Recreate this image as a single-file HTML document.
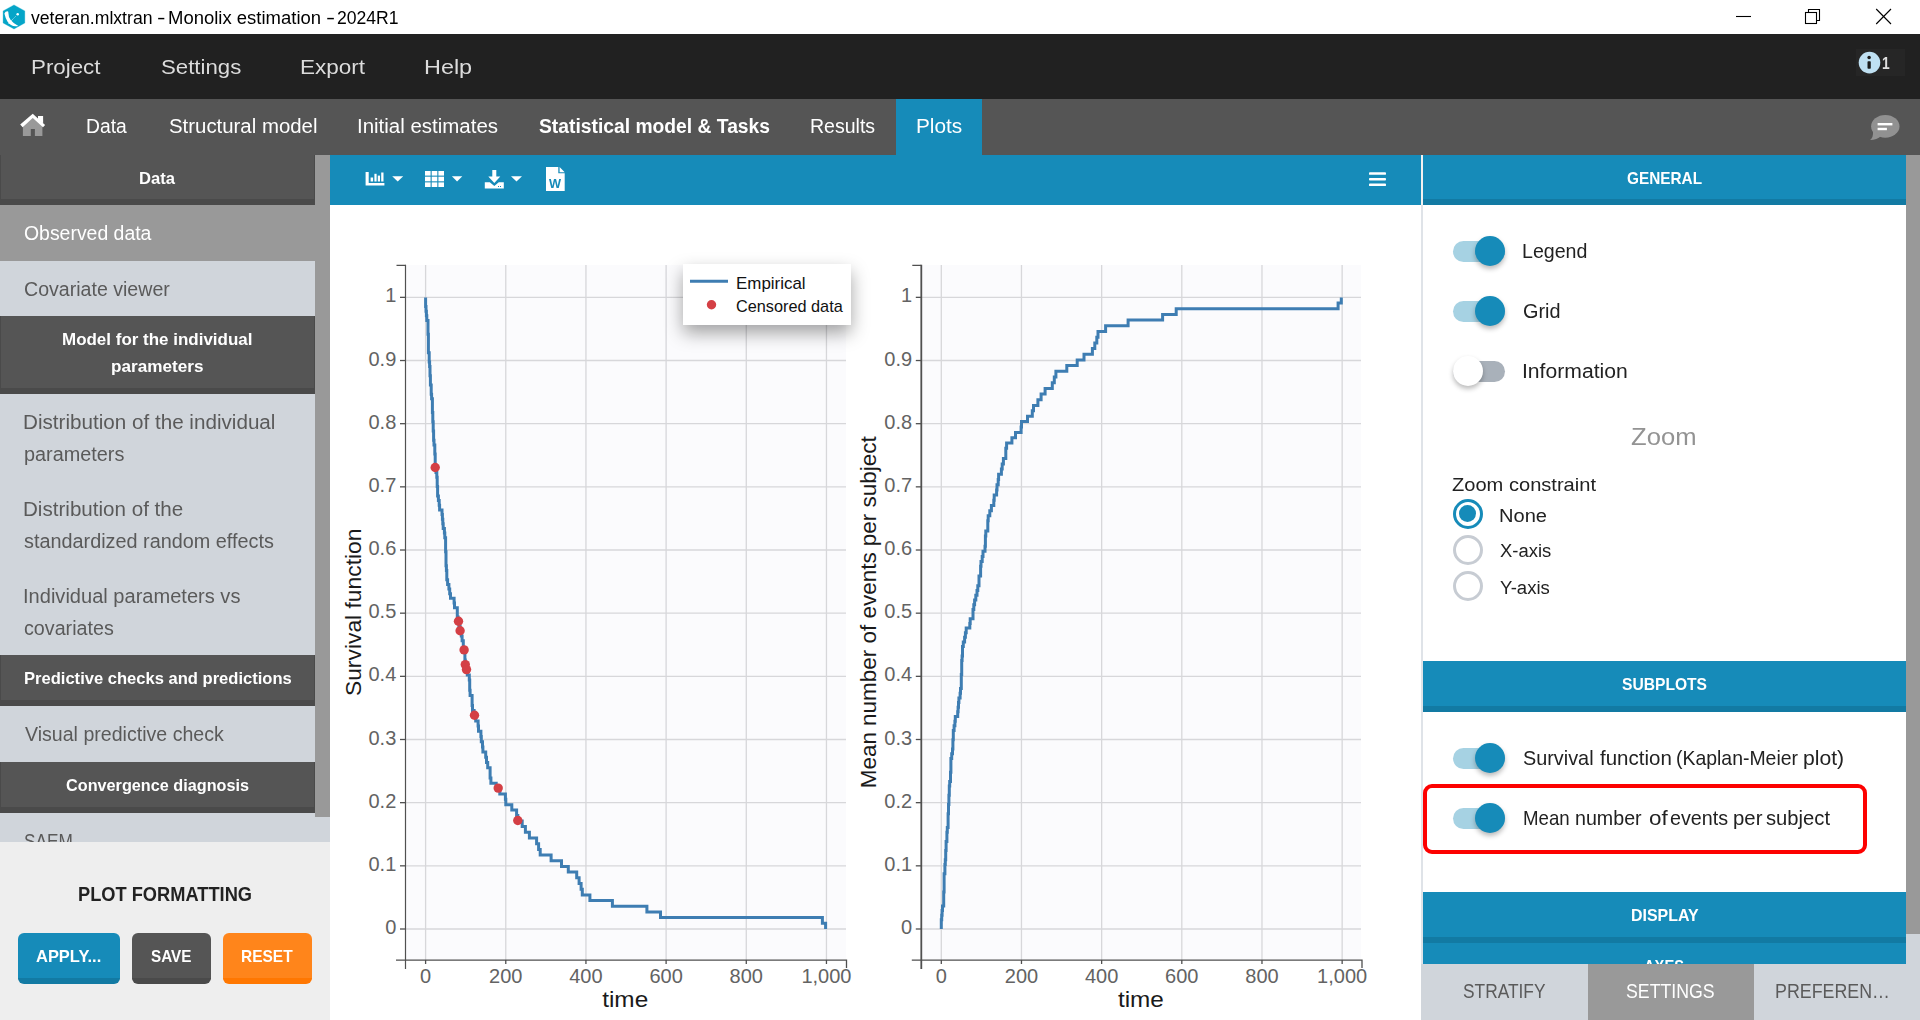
<!DOCTYPE html>
<html><head><meta charset="utf-8"><title>veteran.mlxtran - Monolix estimation - 2024R1</title>
<style>
html,body{margin:0;padding:0;}
body{width:1920px;height:1020px;overflow:hidden;background:#fff;font-family:"Liberation Sans",sans-serif;position:relative;}
.abs,.t,.trk,.thm,.rad{position:absolute;}
.t{white-space:nowrap;line-height:1;transform-origin:0 50%;}
.trk{width:51.8px;height:21px;border-radius:10.5px;}
.thm{width:30px;height:30px;border-radius:50%;box-shadow:0 3px 5px rgba(0,0,0,.27);}
.rad{width:30px;height:30px;border-radius:50%;box-sizing:border-box;background:#fff;}
.hdr{position:absolute;left:0;width:315px;background:#555555;border-bottom:6px solid #4a4a4a;border-left:1px solid #4a4a4a;border-right:1px solid #4a4a4a;box-sizing:border-box;}
.bh{position:absolute;left:0;width:483px;background:#168bb9;border-bottom:6px solid #127aa3;box-sizing:border-box;}
.btn{position:absolute;top:933px;height:51px;border-radius:6px;box-sizing:border-box;}
.chart{position:absolute;left:330px;top:205px;}
</style></head><body>

<div class='abs' id='titlebar' style='left:0;top:0;width:1920px;height:34px;background:#fff'>
<svg class='abs' style='left:0;top:0' width='30' height='34' viewBox='0 0 30 34'><polygon points='14,4.9 24.8,10.9 24.8,23 14,29 3.1,23 3.1,10.9' fill='#05a5c8' stroke='#05a5c8' stroke-width='0.3' stroke-linejoin='round'/>
<path d='M4.4,13.6 Q5.2,11.2 7.6,11.2 Q8.6,11.3 8.4,13 Q8.2,21 18.4,25.9 Q11.5,27.6 7.6,21.8 Q5.3,18 4.4,13.6Z' fill='#fff'/><circle cx='17.7' cy='14.2' r='1.25' fill='#fff'/><line x1='15.6' y1='16.4' x2='8' y2='24' stroke='#fff' stroke-width='0.6' stroke-dasharray='1.2,0.6'/></svg>
<svg class='abs' style='left:1720px;top:0' width='200' height='34' viewBox='1720 0 200 34' fill='none' stroke='#000' stroke-width='1.1'>
<line x1='1736' x2='1751' y1='16.5' y2='16.5'/>
<rect x='1805.5' y='12.5' width='11' height='11'/><path d='M1808.5,12.5V9.5H1819.5V20.5H1816.5'/>
<path d='M1876.2,9L1891,24M1891,9L1876.2,24'/></svg>
</div>
<div class='abs' id='menubar' style='left:0;top:34px;width:1920px;height:65px;background:#212121'></div>
<div class='abs' style='left:1856px;top:49px;width:49px;height:27px;background:#262626'></div>
<svg class='abs' style='left:1856px;top:49px' width='30' height='27' viewBox='1856 49 30 27'><circle cx='1869.5' cy='62.6' r='10.8' fill='#bfe0f2'/>
<circle cx='1869.1' cy='57.5' r='1.75' fill='#1c1c1c'/><rect x='1867.5' y='61.2' width='3.3' height='7.6' rx='0.8' fill='#1c1c1c'/></svg>
<div class='abs' id='tabbar' style='left:0;top:99px;width:1920px;height:56px;background:#555555'></div>
<div class='abs' style='left:896px;top:99px;width:86px;height:56px;background:#168bb9'></div>
<svg class='abs' style='left:18px;top:110px' width='30' height='30' viewBox='18 110 30 30'>
<path d='M22.9,125.5L32.75,117.8L42.4,125.5V136H34.9V129.1H30.8V136H22.9Z' fill='#999'/>
<path d='M38,116H43.1V123.5L38,119.5Z' fill='#fff'/>
<path d='M20.2,124.6L32.75,113.8L45.1,125L43,127.2L32.75,118L22.6,127.2Z' fill='#fff'/></svg>
<svg class='abs' style='left:1866px;top:112px' width='38' height='32' viewBox='1866 112 38 32'>
<ellipse cx='1885.3' cy='126.3' rx='14.2' ry='11.4' fill='#919191'/><path d='M1873,131 Q1873.5,137.5 1870,140 Q1877,140 1881,136Z' fill='#919191'/>
<rect x='1877.6' y='123' width='14.8' height='2.4' fill='#fff'/><rect x='1877.6' y='127.8' width='9.3' height='2.4' fill='#fff'/></svg>
<div class='abs' id='sidebar' style='left:0;top:155px;width:330px;height:687px;overflow:hidden;background:#d0d5db'>
<div class='abs' style='left:315px;top:0;width:15px;height:661.5px;background:#999999'></div>
<div class='hdr' style='top:0px;height:50px'></div>
<div class='abs' style='left:0;top:50px;width:315px;height:56px;background:#999999'></div>
<div class='hdr' style='top:161px;height:78px'></div>
<div class='hdr' style='top:500px;height:51px'></div>
<div class='hdr' style='top:607px;height:51px'></div>
<span class='t' style='left:138.79px;top:16.00px;font-size:16.6px;font-weight:700;color:#fff;transform:scaleX(1.0011)'>Data</span>
<span class='t' style='left:23.59px;top:69.00px;font-size:19.4px;font-weight:400;color:#fff;transform:scaleX(1.0016)'>Observed data</span>
<span class='t' style='left:23.59px;top:125.00px;font-size:19.4px;font-weight:400;color:#5a5a5a;transform:scaleX(1.0096)'>Covariate viewer</span>
<span class='t' style='left:62.29px;top:177.00px;font-size:16.6px;font-weight:700;color:#fff;transform:scaleX(1.0225)'>Model for the individual</span>
<span class='t' style='left:111.28px;top:204.00px;font-size:16.6px;font-weight:700;color:#fff;transform:scaleX(1.0329)'>parameters</span>
<span class='t' style='left:22.77px;top:258.00px;font-size:19.4px;font-weight:400;color:#5a5a5a;transform:scaleX(1.0645)'>Distribution of the individual</span>
<span class='t' style='left:23.79px;top:290.00px;font-size:19.4px;font-weight:400;color:#5a5a5a;transform:scaleX(1.0238)'>parameters</span>
<span class='t' style='left:22.77px;top:345.00px;font-size:19.4px;font-weight:400;color:#5a5a5a;transform:scaleX(1.0619)'>Distribution of the</span>
<span class='t' style='left:23.59px;top:377.00px;font-size:19.4px;font-weight:400;color:#5a5a5a;transform:scaleX(1.0224)'>standardized random effects</span>
<span class='t' style='left:22.77px;top:432.00px;font-size:19.4px;font-weight:400;color:#5a5a5a;transform:scaleX(1.0346)'>Individual parameters vs</span>
<span class='t' style='left:23.58px;top:464.00px;font-size:19.4px;font-weight:400;color:#5a5a5a;transform:scaleX(1.0162)'>covariates</span>
<span class='t' style='left:23.59px;top:516.00px;font-size:16.6px;font-weight:700;color:#fff;transform:scaleX(0.9979)'>Predictive checks and predictions</span>
<span class='t' style='left:24.60px;top:570.00px;font-size:19.4px;font-weight:400;color:#5a5a5a;transform:scaleX(1.0097)'>Visual predictive check</span>
<span class='t' style='left:65.99px;top:623.00px;font-size:16.6px;font-weight:700;color:#fff;transform:scaleX(0.9777)'>Convergence diagnosis</span>
<span class='t' style='left:23.56px;top:677.00px;font-size:19.4px;font-weight:400;color:#5a5a5a;transform:scaleX(0.8895)'>SAEM</span>
</div>
<div class='abs' id='plotfmt' style='left:0;top:842px;width:330px;height:178px;background:#eeeeee'></div>
<div class='btn' style='left:18px;width:102px;background:#168bb9;border-bottom:6px solid #127aa3'></div>
<div class='btn' style='left:132px;width:79px;background:#555;border-bottom:6px solid #4a4a4a'></div>
<div class='btn' style='left:223px;width:89px;background:#ff851b;border-bottom:6px solid #ff7701'></div>
<div class='abs' id='toolbar' style='left:330px;top:155px;width:1091px;height:50px;background:#168bb9'></div>
<svg class='abs' style='left:360px;top:160px' width='220' height='40' viewBox='360 160 220 40' fill='#fff'>
<path d='M365.6,171.9H368.7V183.1H384.4V185.6H365.6Z'/>
<rect x='370.6' y='177.5' width='2.5' height='4' /><rect x='374.4' y='173.8' width='2.2' height='7.7'/><rect x='377.8' y='175.6' width='2.2' height='5.9'/><rect x='381.2' y='172.5' width='2.3' height='9'/>
<path d='M392.2,176.2H403.2L397.7,181.4Z'/>
<g><rect x='425' y='171' width='5.6' height='4.6'/><rect x='431.7' y='171' width='5.6' height='4.6'/><rect x='438.4' y='171' width='5.6' height='4.6'/>
<rect x='425' y='176.7' width='5.6' height='4.6'/><rect x='431.7' y='176.7' width='5.6' height='4.6'/><rect x='438.4' y='176.7' width='5.6' height='4.6'/>
<rect x='425' y='182.4' width='5.6' height='4.6'/><rect x='431.7' y='182.4' width='5.6' height='4.6'/><rect x='438.4' y='182.4' width='5.6' height='4.6'/></g>
<path d='M451.9,176.2H462.3L457.1,181.4Z'/>
<path d='M492.3,170H496.3V176.5H500.3L494.3,183L488.3,176.5H492.3Z'/>
<path d='M484.8,182.2H489.8L494.3,186L498.8,182.2H503.8V188.5H484.8Z'/>
<path d='M511,176.2H522L516.5,181.4Z'/>
<path d='M546,167H558.3V173.3H564.7V191H546Z M559.6,167L564.7,172.2H559.6Z'/>
</svg>
<span class='t' style='left:549.2px;top:177.72px;font-size:12.5px;font-weight:700;color:#168bb9;transform:scaleX(1.02)'>W</span>
<div class='abs' style='left:498px;top:185.6px;width:1px;height:1px;background:#168bb9'></div><div class='abs' style='left:500px;top:185.6px;width:1px;height:1px;background:#168bb9'></div>
<svg class='abs' style='left:1365px;top:168px' width='26' height='22' viewBox='1365 168 26 22' fill='#fff'>
<rect x='1369' y='172.3' width='17' height='2.55' rx='0.9'/><rect x='1369' y='177.95' width='17' height='2.55' rx='0.9'/><rect x='1369' y='183.55' width='17' height='2.55' rx='0.9'/></svg>
<svg class="chart" width="1091" height="815" viewBox="330 205 1091 815" font-family="Liberation Sans, sans-serif">
<defs><filter id="sh" x="-30%" y="-60%" width="160%" height="260%"><feDropShadow dx="0" dy="8" stdDeviation="9" flood-color="#000" flood-opacity="0.36"/></filter></defs>
<rect x="406.0" y="265" width="440.0" height="695" fill="#fbfbfd"/>
<line x1="405.5" x2="846" y1="297.35" y2="297.35" stroke="#d7d7da" stroke-width="1.3"/>
<line x1="405.5" x2="846" y1="360.52" y2="360.52" stroke="#d7d7da" stroke-width="1.3"/>
<line x1="405.5" x2="846" y1="423.68" y2="423.68" stroke="#d7d7da" stroke-width="1.3"/>
<line x1="405.5" x2="846" y1="486.85" y2="486.85" stroke="#d7d7da" stroke-width="1.3"/>
<line x1="405.5" x2="846" y1="550.01" y2="550.01" stroke="#d7d7da" stroke-width="1.3"/>
<line x1="405.5" x2="846" y1="613.17" y2="613.17" stroke="#d7d7da" stroke-width="1.3"/>
<line x1="405.5" x2="846" y1="676.34" y2="676.34" stroke="#d7d7da" stroke-width="1.3"/>
<line x1="405.5" x2="846" y1="739.50" y2="739.50" stroke="#d7d7da" stroke-width="1.3"/>
<line x1="405.5" x2="846" y1="802.67" y2="802.67" stroke="#d7d7da" stroke-width="1.3"/>
<line x1="405.5" x2="846" y1="865.84" y2="865.84" stroke="#d7d7da" stroke-width="1.3"/>
<line x1="405.5" x2="846" y1="929.00" y2="929.00" stroke="#d7d7da" stroke-width="1.3"/>
<line x1="425.60" x2="425.60" y1="265" y2="960" stroke="#d7d7da" stroke-width="1.3"/>
<line x1="505.77" x2="505.77" y1="265" y2="960" stroke="#d7d7da" stroke-width="1.3"/>
<line x1="585.94" x2="585.94" y1="265" y2="960" stroke="#d7d7da" stroke-width="1.3"/>
<line x1="666.11" x2="666.11" y1="265" y2="960" stroke="#d7d7da" stroke-width="1.3"/>
<line x1="746.28" x2="746.28" y1="265" y2="960" stroke="#d7d7da" stroke-width="1.3"/>
<line x1="826.45" x2="826.45" y1="265" y2="960" stroke="#d7d7da" stroke-width="1.3"/>
<rect x="921.8" y="265" width="439.20000000000005" height="695" fill="#fbfbfd"/>
<line x1="921.3" x2="1361" y1="297.35" y2="297.35" stroke="#d7d7da" stroke-width="1.3"/>
<line x1="921.3" x2="1361" y1="360.52" y2="360.52" stroke="#d7d7da" stroke-width="1.3"/>
<line x1="921.3" x2="1361" y1="423.68" y2="423.68" stroke="#d7d7da" stroke-width="1.3"/>
<line x1="921.3" x2="1361" y1="486.85" y2="486.85" stroke="#d7d7da" stroke-width="1.3"/>
<line x1="921.3" x2="1361" y1="550.01" y2="550.01" stroke="#d7d7da" stroke-width="1.3"/>
<line x1="921.3" x2="1361" y1="613.17" y2="613.17" stroke="#d7d7da" stroke-width="1.3"/>
<line x1="921.3" x2="1361" y1="676.34" y2="676.34" stroke="#d7d7da" stroke-width="1.3"/>
<line x1="921.3" x2="1361" y1="739.50" y2="739.50" stroke="#d7d7da" stroke-width="1.3"/>
<line x1="921.3" x2="1361" y1="802.67" y2="802.67" stroke="#d7d7da" stroke-width="1.3"/>
<line x1="921.3" x2="1361" y1="865.84" y2="865.84" stroke="#d7d7da" stroke-width="1.3"/>
<line x1="921.3" x2="1361" y1="929.00" y2="929.00" stroke="#d7d7da" stroke-width="1.3"/>
<line x1="941.30" x2="941.30" y1="265" y2="960" stroke="#d7d7da" stroke-width="1.3"/>
<line x1="1021.47" x2="1021.47" y1="265" y2="960" stroke="#d7d7da" stroke-width="1.3"/>
<line x1="1101.64" x2="1101.64" y1="265" y2="960" stroke="#d7d7da" stroke-width="1.3"/>
<line x1="1181.81" x2="1181.81" y1="265" y2="960" stroke="#d7d7da" stroke-width="1.3"/>
<line x1="1261.98" x2="1261.98" y1="265" y2="960" stroke="#d7d7da" stroke-width="1.3"/>
<line x1="1342.15" x2="1342.15" y1="265" y2="960" stroke="#d7d7da" stroke-width="1.3"/>
<path d="M425.6,297.4V306.6H426.0V311.2H426.4V315.8H426.8V320.4H428.0V334.2H428.4V352.7H429.2V361.9H429.6V366.5H430.0V375.7H430.4V385.0H431.2V394.2H431.6V398.8H432.4V412.6H432.8V421.8H433.2V431.1H433.6V440.3H434.0V444.9H434.8V454.1H435.2V467.9H436.0V472.6H436.8V477.3H437.2V486.6H437.6V495.9H438.4V500.5H439.2V505.2H439.6V509.9H442.0V514.5H442.4V519.2H442.8V523.8H443.2V528.5H444.4V533.1H444.8V537.8H445.6V551.8H446.0V565.7H446.4V570.4H446.8V579.7H447.6V584.4H448.9V589.0H449.7V593.7H450.5V598.3H454.1V603.0H454.5V607.7H457.3V617.0H458.1V621.6H458.9V626.4H460.1V631.1H461.3V635.9H462.1V640.7H463.3V650.3H464.9V660.1H465.3V665.0H466.5V670.0H467.3V675.0H469.3V680.1H469.7V690.3H470.1V695.4H472.1V705.5H472.5V710.6H474.1V715.7H475.7V720.9H478.1V726.1H478.5V731.3H480.9V736.5H481.3V741.7H482.5V746.9H482.9V752.1H485.7V757.3H486.5V762.5H487.7V767.7H490.1V778.1H490.9V783.3H496.2V788.5H499.8V793.9H505.4V799.3H505.8V804.7H511.8V810.1H516.6V815.5H517.8V820.9H522.2V826.6H525.4V832.3H529.4V838.0H536.6V843.7H538.6V849.4H540.2V855.1H551.1V860.7H561.5V866.4H568.3V872.1H576.7V877.8H579.1V883.5H581.1V889.2H582.3V894.9H589.9V900.6H612.4V906.2H646.9V911.9H660.5V917.6H822.4V923.3H825.6V929.0" fill="none" stroke="#3e7db2" stroke-width="3" stroke-linejoin="miter"/>
<path d="M941.3,929.0V919.8H941.7V915.2H942.1V910.6H942.5V905.9H943.7V892.1H944.1V873.7H944.9V864.5H945.3V859.8H945.7V850.6H946.1V841.4H946.9V832.2H947.3V827.6H948.1V813.7H948.5V804.5H948.9V795.3H949.3V786.1H949.7V781.5H950.5V772.2H950.9V758.4H951.7V753.8H952.5V749.1H952.9V739.8H953.3V730.5H954.1V725.8H954.9V721.2H955.3V716.5H957.7V711.8H958.1V707.2H958.5V702.5H958.9V697.9H960.1V693.2H960.5V688.6H961.3V674.6H961.7V660.6H962.1V656.0H962.5V646.6H963.3V642.0H964.6V637.3H965.4V632.7H966.2V628.0H969.8V623.4H970.2V618.7H973.0V609.4H973.8V604.7H974.6V600.0H975.8V595.3H977.0V590.5H977.8V585.7H979.0V576.0H980.6V566.3H981.0V561.4H982.2V556.4H983.0V551.3H985.0V546.2H985.4V536.1H985.8V531.0H987.8V520.8H988.2V515.8H989.8V510.7H991.4V505.5H993.8V500.3H994.2V495.1H996.6V489.9H997.0V484.7H998.2V479.5H998.6V474.3H1001.4V469.1H1002.2V463.9H1003.4V458.6H1005.8V448.2H1006.6V443.0H1011.9V437.8H1015.5V432.4H1021.1V427.0H1021.5V421.6H1027.5V416.2H1032.3V410.8H1033.5V405.4H1037.9V399.7H1041.1V394.0H1045.1V388.4H1052.3V382.7H1054.3V377.0H1055.9V371.3H1066.8V365.6H1077.2V359.9H1084.0V354.2H1092.4V348.5H1094.8V342.9H1096.8V337.2H1098.0V331.5H1105.6V325.8H1128.1V320.1H1162.6V314.4H1176.2V308.7H1338.1V303.0H1341.3V297.4" fill="none" stroke="#3e7db2" stroke-width="3" stroke-linejoin="miter"/>
<circle cx="435.2" cy="467.5" r="4.7" fill="#d43f45"/>
<circle cx="458.5" cy="621.2" r="4.7" fill="#d43f45"/>
<circle cx="460.1" cy="630.7" r="4.7" fill="#d43f45"/>
<circle cx="464.1" cy="649.9" r="4.7" fill="#d43f45"/>
<circle cx="465.3" cy="664.6" r="4.7" fill="#d43f45"/>
<circle cx="466.5" cy="669.6" r="4.7" fill="#d43f45"/>
<circle cx="474.5" cy="715.3" r="4.7" fill="#d43f45"/>
<circle cx="498.2" cy="788.1" r="4.7" fill="#d43f45"/>
<circle cx="517.8" cy="820.5" r="4.7" fill="#d43f45"/>
<path d="M396.5,265.3H405.5 M396.0,960.2H846.5V968" fill="none" stroke="#505050" stroke-width="1.3"/>
<path d="M405.5,264.7V969" fill="none" stroke="#505050" stroke-width="1.2"/>
<line x1="400.0" x2="405.5" y1="297.35" y2="297.35" stroke="#505050" stroke-width="1.3"/>
<text x="396.3" y="302.45" font-size="20" fill="#636363" text-anchor="end">1</text>
<line x1="400.0" x2="405.5" y1="360.52" y2="360.52" stroke="#505050" stroke-width="1.3"/>
<text x="396.3" y="365.62" font-size="20" fill="#636363" text-anchor="end">0.9</text>
<line x1="400.0" x2="405.5" y1="423.68" y2="423.68" stroke="#505050" stroke-width="1.3"/>
<text x="396.3" y="428.78" font-size="20" fill="#636363" text-anchor="end">0.8</text>
<line x1="400.0" x2="405.5" y1="486.85" y2="486.85" stroke="#505050" stroke-width="1.3"/>
<text x="396.3" y="491.95" font-size="20" fill="#636363" text-anchor="end">0.7</text>
<line x1="400.0" x2="405.5" y1="550.01" y2="550.01" stroke="#505050" stroke-width="1.3"/>
<text x="396.3" y="555.11" font-size="20" fill="#636363" text-anchor="end">0.6</text>
<line x1="400.0" x2="405.5" y1="613.17" y2="613.17" stroke="#505050" stroke-width="1.3"/>
<text x="396.3" y="618.27" font-size="20" fill="#636363" text-anchor="end">0.5</text>
<line x1="400.0" x2="405.5" y1="676.34" y2="676.34" stroke="#505050" stroke-width="1.3"/>
<text x="396.3" y="681.44" font-size="20" fill="#636363" text-anchor="end">0.4</text>
<line x1="400.0" x2="405.5" y1="739.50" y2="739.50" stroke="#505050" stroke-width="1.3"/>
<text x="396.3" y="744.61" font-size="20" fill="#636363" text-anchor="end">0.3</text>
<line x1="400.0" x2="405.5" y1="802.67" y2="802.67" stroke="#505050" stroke-width="1.3"/>
<text x="396.3" y="807.77" font-size="20" fill="#636363" text-anchor="end">0.2</text>
<line x1="400.0" x2="405.5" y1="865.84" y2="865.84" stroke="#505050" stroke-width="1.3"/>
<text x="396.3" y="870.94" font-size="20" fill="#636363" text-anchor="end">0.1</text>
<line x1="400.0" x2="405.5" y1="929.00" y2="929.00" stroke="#505050" stroke-width="1.3"/>
<text x="396.3" y="934.10" font-size="20" fill="#636363" text-anchor="end">0</text>
<line x1="425.60" x2="425.60" y1="960" y2="964" stroke="#505050" stroke-width="1.3"/>
<text x="425.60" y="982.7" font-size="20" fill="#636363" text-anchor="middle">0</text>
<line x1="505.77" x2="505.77" y1="960" y2="964" stroke="#505050" stroke-width="1.3"/>
<text x="505.77" y="982.7" font-size="20" fill="#636363" text-anchor="middle">200</text>
<line x1="585.94" x2="585.94" y1="960" y2="964" stroke="#505050" stroke-width="1.3"/>
<text x="585.94" y="982.7" font-size="20" fill="#636363" text-anchor="middle">400</text>
<line x1="666.11" x2="666.11" y1="960" y2="964" stroke="#505050" stroke-width="1.3"/>
<text x="666.11" y="982.7" font-size="20" fill="#636363" text-anchor="middle">600</text>
<line x1="746.28" x2="746.28" y1="960" y2="964" stroke="#505050" stroke-width="1.3"/>
<text x="746.28" y="982.7" font-size="20" fill="#636363" text-anchor="middle">800</text>
<line x1="826.45" x2="826.45" y1="960" y2="964" stroke="#505050" stroke-width="1.3"/>
<text x="826.45" y="982.7" font-size="20" fill="#636363" text-anchor="middle">1,000</text>
<text x="625.2" y="1006.7" font-size="22.8" fill="#1a1a1a" text-anchor="middle" textLength="46" lengthAdjust="spacingAndGlyphs">time</text>
<text transform="translate(360.5,612.3) rotate(-90)" font-size="22.8" fill="#1a1a1a" text-anchor="middle" textLength="167.5" lengthAdjust="spacingAndGlyphs">Survival function</text>
<path d="M912.3,265.3H921.3 M911.8,960.2H1362V968" fill="none" stroke="#505050" stroke-width="1.3"/>
<path d="M921.3,264.7V969" fill="none" stroke="#505050" stroke-width="1.8"/>
<line x1="915.8" x2="921.3" y1="297.35" y2="297.35" stroke="#505050" stroke-width="1.3"/>
<text x="912.0999999999999" y="302.45" font-size="20" fill="#636363" text-anchor="end">1</text>
<line x1="915.8" x2="921.3" y1="360.52" y2="360.52" stroke="#505050" stroke-width="1.3"/>
<text x="912.0999999999999" y="365.62" font-size="20" fill="#636363" text-anchor="end">0.9</text>
<line x1="915.8" x2="921.3" y1="423.68" y2="423.68" stroke="#505050" stroke-width="1.3"/>
<text x="912.0999999999999" y="428.78" font-size="20" fill="#636363" text-anchor="end">0.8</text>
<line x1="915.8" x2="921.3" y1="486.85" y2="486.85" stroke="#505050" stroke-width="1.3"/>
<text x="912.0999999999999" y="491.95" font-size="20" fill="#636363" text-anchor="end">0.7</text>
<line x1="915.8" x2="921.3" y1="550.01" y2="550.01" stroke="#505050" stroke-width="1.3"/>
<text x="912.0999999999999" y="555.11" font-size="20" fill="#636363" text-anchor="end">0.6</text>
<line x1="915.8" x2="921.3" y1="613.17" y2="613.17" stroke="#505050" stroke-width="1.3"/>
<text x="912.0999999999999" y="618.27" font-size="20" fill="#636363" text-anchor="end">0.5</text>
<line x1="915.8" x2="921.3" y1="676.34" y2="676.34" stroke="#505050" stroke-width="1.3"/>
<text x="912.0999999999999" y="681.44" font-size="20" fill="#636363" text-anchor="end">0.4</text>
<line x1="915.8" x2="921.3" y1="739.50" y2="739.50" stroke="#505050" stroke-width="1.3"/>
<text x="912.0999999999999" y="744.61" font-size="20" fill="#636363" text-anchor="end">0.3</text>
<line x1="915.8" x2="921.3" y1="802.67" y2="802.67" stroke="#505050" stroke-width="1.3"/>
<text x="912.0999999999999" y="807.77" font-size="20" fill="#636363" text-anchor="end">0.2</text>
<line x1="915.8" x2="921.3" y1="865.84" y2="865.84" stroke="#505050" stroke-width="1.3"/>
<text x="912.0999999999999" y="870.94" font-size="20" fill="#636363" text-anchor="end">0.1</text>
<line x1="915.8" x2="921.3" y1="929.00" y2="929.00" stroke="#505050" stroke-width="1.3"/>
<text x="912.0999999999999" y="934.10" font-size="20" fill="#636363" text-anchor="end">0</text>
<line x1="941.30" x2="941.30" y1="960" y2="964" stroke="#505050" stroke-width="1.3"/>
<text x="941.30" y="982.7" font-size="20" fill="#636363" text-anchor="middle">0</text>
<line x1="1021.47" x2="1021.47" y1="960" y2="964" stroke="#505050" stroke-width="1.3"/>
<text x="1021.47" y="982.7" font-size="20" fill="#636363" text-anchor="middle">200</text>
<line x1="1101.64" x2="1101.64" y1="960" y2="964" stroke="#505050" stroke-width="1.3"/>
<text x="1101.64" y="982.7" font-size="20" fill="#636363" text-anchor="middle">400</text>
<line x1="1181.81" x2="1181.81" y1="960" y2="964" stroke="#505050" stroke-width="1.3"/>
<text x="1181.81" y="982.7" font-size="20" fill="#636363" text-anchor="middle">600</text>
<line x1="1261.98" x2="1261.98" y1="960" y2="964" stroke="#505050" stroke-width="1.3"/>
<text x="1261.98" y="982.7" font-size="20" fill="#636363" text-anchor="middle">800</text>
<line x1="1342.15" x2="1342.15" y1="960" y2="964" stroke="#505050" stroke-width="1.3"/>
<text x="1342.15" y="982.7" font-size="20" fill="#636363" text-anchor="middle">1,000</text>
<text x="1140.9" y="1006.7" font-size="22.8" fill="#1a1a1a" text-anchor="middle" textLength="46" lengthAdjust="spacingAndGlyphs">time</text>
<text transform="translate(876.2,612.3) rotate(-90)" font-size="22.8" fill="#1a1a1a" text-anchor="middle" textLength="352" lengthAdjust="spacingAndGlyphs">Mean number of events per subject</text>
<rect x="683" y="264" width="168" height="61" fill="#fff" filter="url(#sh)"/>
<line x1="690" x2="728" y1="281.3" y2="281.3" stroke="#3e7db2" stroke-width="3"/>
<circle cx="711.5" cy="304.8" r="4.7" fill="#d43f45"/>
<text x="736" y="289" font-size="16.6" fill="#111" textLength="69.6" lengthAdjust="spacingAndGlyphs">Empirical</text>
<text x="736" y="311.5" font-size="16.6" fill="#111" textLength="106.7" lengthAdjust="spacingAndGlyphs">Censored data</text>
</svg>
<div class='abs' style='left:1421px;top:155px;width:2px;height:50px;background:#f3f1f0'></div>
<div class='abs' style='left:1421px;top:205px;width:2px;height:759px;background:#dfe3e8'></div>
<div class='abs' id='rpanel' style='left:1423px;top:155px;width:483px;height:809px;overflow:hidden;background:#fff'>
<div class='bh' style='top:0px;height:50px'></div>
<div class='bh' style='top:506px;height:51px'></div>
<div class='bh' style='top:737px;height:51px'></div>
<div class='bh' style='top:788px;height:51px'></div>
<div class='trk' style='left:30px;top:85.5px;background:#a6d2e3'></div><div class='thm' style='left:52.299999999999955px;top:80.80000000000001px;background:#168bb9'></div>
<div class='trk' style='left:30px;top:145.5px;background:#a6d2e3'></div><div class='thm' style='left:52.299999999999955px;top:140.8px;background:#168bb9'></div>
<div class='trk' style='left:30px;top:205.5px;background:#a9b1ba'></div><div class='thm' style='left:30px;top:201px;background:#fff'></div>
<div class='rad' style='left:30.09999999999991px;top:344px;border:3.8px solid #168bb9'><div style='position:absolute;left:2.7px;top:2.7px;width:17px;height:17px;border-radius:50%;background:#168bb9'></div></div>
<div class='rad' style='left:30.09999999999991px;top:380px;border:3.1px solid #c7ccd3'></div>
<div class='rad' style='left:30.09999999999991px;top:416px;border:3.1px solid #c7ccd3'></div>
<div class='trk' style='left:30px;top:592.5px;background:#a6d2e3'></div><div class='thm' style='left:52.299999999999955px;top:587.8px;background:#168bb9'></div>
<div class='trk' style='left:30px;top:652.5px;background:#a6d2e3'></div><div class='thm' style='left:52.299999999999955px;top:647.8px;background:#168bb9'></div>
<div class='abs' style='left:0px;top:629px;width:444.4px;height:70px;box-sizing:border-box;border:4.8px solid #fd0100;border-radius:9px'></div>
<span class='t' style='left:203.97px;top:16.00px;font-size:16.6px;font-weight:700;color:#fff;transform:scaleX(0.9250)'>GENERAL</span>
<span class='t' style='left:99.08px;top:86.00px;font-size:20px;font-weight:400;color:#222;transform:scaleX(0.9801)'>Legend</span>
<span class='t' style='left:99.93px;top:146.00px;font-size:20px;font-weight:400;color:#222;transform:scaleX(0.9934)'>Grid</span>
<span class='t' style='left:99.13px;top:206.00px;font-size:20px;font-weight:400;color:#222;transform:scaleX(1.0564)'>Information</span>
<span class='t' style='left:208.36px;top:270.00px;font-size:24.6px;font-weight:400;color:#939393;transform:scaleX(1.0414)'>Zoom</span>
<span class='t' style='left:29.49px;top:321.00px;font-size:18.4px;font-weight:400;color:#222;transform:scaleX(1.0922)'>Zoom constraint</span>
<span class='t' style='left:76.39px;top:351.50px;font-size:18px;font-weight:400;color:#222;transform:scaleX(1.1139)'>None</span>
<span class='t' style='left:76.97px;top:387.30px;font-size:18px;font-weight:400;color:#222;transform:scaleX(1.0247)'>X-axis</span>
<span class='t' style='left:76.97px;top:423.50px;font-size:18px;font-weight:400;color:#222;transform:scaleX(1.0307)'>Y-axis</span>
<span class='t' style='left:198.98px;top:522.00px;font-size:16.6px;font-weight:700;color:#fff;transform:scaleX(0.9412)'>SUBPLOTS</span>
<span class='t' style='left:99.82px;top:594.00px;font-size:19.8px;font-weight:400;color:#222;transform:scaleX(1.0026)'>Survival</span>
<span class='t' style='left:176.60px;top:594.00px;font-size:19.8px;font-weight:400;color:#222;transform:scaleX(1.0365)'>function</span>
<span class='t' style='left:252.99px;top:594.00px;font-size:19.8px;font-weight:400;color:#222;transform:scaleX(0.9822)'>(Kaplan-Meier</span>
<span class='t' style='left:380.45px;top:594.00px;font-size:19.8px;font-weight:400;color:#222;transform:scaleX(1.0682)'>plot)</span>
<span class='t' style='left:100.16px;top:654.00px;font-size:19.8px;font-weight:400;color:#222;transform:scaleX(0.9432)'>Mean</span>
<span class='t' style='left:152.08px;top:654.00px;font-size:19.8px;font-weight:400;color:#222;transform:scaleX(0.9933)'>number</span>
<span class='t' style='left:225.52px;top:654.00px;font-size:19.8px;font-weight:400;color:#222;transform:scaleX(1.1337)'>of</span>
<span class='t' style='left:246.96px;top:654.00px;font-size:19.8px;font-weight:400;color:#222;transform:scaleX(0.9962)'>events</span>
<span class='t' style='left:309.69px;top:654.00px;font-size:19.8px;font-weight:400;color:#222;transform:scaleX(1.0284)'>per</span>
<span class='t' style='left:342.58px;top:654.00px;font-size:19.8px;font-weight:400;color:#222;transform:scaleX(1.0215)'>subject</span>
<span class='t' style='left:207.68px;top:753.00px;font-size:16.6px;font-weight:700;color:#fff;transform:scaleX(0.9605)'>DISPLAY</span>
<span class='t' style='left:220.97px;top:804.00px;font-size:16.6px;font-weight:700;color:#fff;transform:scaleX(0.8858)'>AXES</span>
</div>
<div class='abs' style='left:1906px;top:155px;width:14px;height:809px;background:#d0d5db'></div>
<div class='abs' style='left:1906px;top:155px;width:14px;height:779px;background:#999999'></div>
<div class='abs' style='left:1421px;top:964px;width:499px;height:56px;background:#d0d5db'></div>
<div class='abs' style='left:1588px;top:964px;width:166px;height:56px;background:#999999'></div>
<span class='t' style='left:31.00px;top:10.00px;font-size:17.5px;font-weight:400;color:#000;transform:scaleX(1.0074)'>veteran.mlxtran</span>
<span class='t' style='left:157.20px;top:10.00px;font-size:17.5px;font-weight:400;color:#000;transform:scaleX(1.4499)'>-</span>
<span class='t' style='left:167.97px;top:10.00px;font-size:17.5px;font-weight:400;color:#000;transform:scaleX(1.0560)'>Monolix estimation</span>
<span class='t' style='left:325.65px;top:10.00px;font-size:17.5px;font-weight:400;color:#000;transform:scaleX(1.5635)'>-</span>
<span class='t' style='left:337.21px;top:10.00px;font-size:17.5px;font-weight:400;color:#000;transform:scaleX(1.0045)'>2024R1</span>
<span class='t' style='left:30.93px;top:57.00px;font-size:20.9px;font-weight:400;color:#dcdcdc;transform:scaleX(1.0683)'>Project</span>
<span class='t' style='left:160.78px;top:57.00px;font-size:20.9px;font-weight:400;color:#dcdcdc;transform:scaleX(1.0629)'>Settings</span>
<span class='t' style='left:300.42px;top:57.00px;font-size:20.9px;font-weight:400;color:#dcdcdc;transform:scaleX(1.0781)'>Export</span>
<span class='t' style='left:424.38px;top:57.00px;font-size:20.9px;font-weight:400;color:#dcdcdc;transform:scaleX(1.1205)'>Help</span>
<span class='t' style='left:85.87px;top:117.00px;font-size:19.4px;font-weight:400;color:#fff;transform:scaleX(0.9946)'>Data</span>
<span class='t' style='left:168.78px;top:117.00px;font-size:19.4px;font-weight:400;color:#fff;transform:scaleX(1.0513)'>Structural model</span>
<span class='t' style='left:357.46px;top:117.00px;font-size:19.4px;font-weight:400;color:#fff;transform:scaleX(1.0554)'>Initial estimates</span>
<span class='t' style='left:538.99px;top:117.00px;font-size:19.4px;font-weight:700;color:#fff;transform:scaleX(0.9940)'>Statistical model &amp; Tasks</span>
<span class='t' style='left:810.42px;top:117.00px;font-size:19.4px;font-weight:400;color:#fff;transform:scaleX(1.0067)'>Results</span>
<span class='t' style='left:915.85px;top:117.00px;font-size:19.4px;font-weight:400;color:#fff;transform:scaleX(1.0723)'>Plots</span>
<span class='t' style='left:77.99px;top:885.00px;font-size:19.3px;font-weight:700;color:#222;transform:scaleX(0.9464)'>PLOT FORMATTING</span>
<span class='t' style='left:35.87px;top:949.00px;font-size:16.6px;font-weight:700;color:#fff;transform:scaleX(0.9920)'>APPLY...</span>
<span class='t' style='left:150.77px;top:949.00px;font-size:16.6px;font-weight:700;color:#fff;transform:scaleX(0.9197)'>SAVE</span>
<span class='t' style='left:241.47px;top:949.00px;font-size:16.6px;font-weight:700;color:#fff;transform:scaleX(0.9332)'>RESET</span>
<span class='t' style='left:1463.28px;top:982.00px;font-size:19.4px;font-weight:400;color:#5a5a5a;transform:scaleX(0.8932)'>STRATIFY</span>
<span class='t' style='left:1626.48px;top:982.00px;font-size:19.4px;font-weight:400;color:#fff;transform:scaleX(0.9139)'>SETTINGS</span>
<span class='t' style='left:1774.97px;top:982.00px;font-size:19.4px;font-weight:400;color:#5a5a5a;transform:scaleX(0.9194)'>PREFEREN…</span>
<span class='t' style='left:1882.06px;top:56.00px;font-size:15.6px;font-weight:700;color:#e0e0e0;transform:scaleX(0.8849)'>1</span>
</body></html>
